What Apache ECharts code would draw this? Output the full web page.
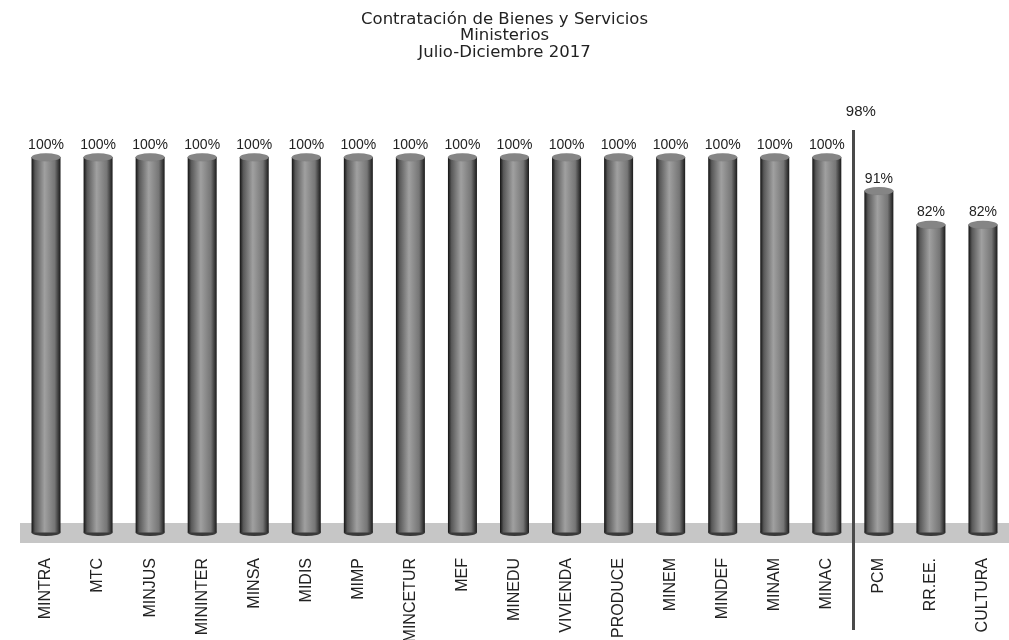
<!DOCTYPE html>
<html>
<head>
<meta charset="utf-8">
<script src="https://cdn.jsdelivr.net/npm/echarts@6/dist/echarts.min.js"></script>
<style>
html,body{margin:0;padding:0;background:#fff;}
#chart{width:1009px;height:640px;}
</style>
</head>
<body>
<div id="chart"></div>
<script>
const categories = ['MINTRA','MTC','MINJUS','MININTER','MINSA','MIDIS','MIMP','MINCETUR','MEF','MINEDU','VIVIENDA','PRODUCE','MINEM','MINDEF','MINAM','MINAC','PCM','RR.EE.','CULTURA'];
const values = [100,100,100,100,100,100,100,100,100,100,100,100,100,100,100,100,91,82,82];
const averageValue = 98;
const averagePosition = 15.5; // between MINAC and PCM
const titleLines = ['Contratación de Bienes y Servicios','Ministerios','Julio-Diciembre 2017'];

const chart = echarts.init(document.getElementById('chart'));
const font = 'Liberation Sans, Arial, sans-serif';
const barGrad = new echarts.graphic.LinearGradient(0,0,1,0,[
  {offset:0,color:'#121212'},
  {offset:0.12,color:'#585858'},
  {offset:0.45,color:'#a0a0a0'},
  {offset:0.8,color:'#767676'},
  {offset:1,color:'#1a1a1a'}
]);
chart.setOption({
  animation:false,
  backgroundColor:'#ffffff',
  title:{
    text:titleLines.join('\n'),
    left:'center',
    top:6,
    textStyle:{fontFamily:'DejaVu Sans',fontSize:16.5,fontWeight:'normal',color:'#222',lineHeight:16.5}
  },
  grid:{left:20,right:0,top:130,bottom:10,containLabel:false,outerBoundsMode:'none'},
  xAxis:[{
    type:'category',
    data:categories,
    axisLine:{onZero:true,lineStyle:{color:'#c6c6c6',width:20,cap:'butt'}},
    axisTick:{show:false},
    axisLabel:{rotate:90,margin:-72,fontFamily:font,fontSize:16,color:'#222',interval:0}
  },{
    type:'value',
    min:-0.5,max:18.5,
    show:false
  }],
  yAxis:{
    type:'value',min:-26,max:107.2,show:false,splitLine:{show:false}
  },
  series:[
    {
      type:'bar',
      data:values,
      barWidth:29,
      itemStyle:{color:barGrad},
      label:{show:true,position:'top',distance:5,formatter:'{c}%',fontFamily:font,fontSize:14,color:'#222'},
      z:3
    },
    {
      type:'pictorialBar',
      data:values,
      symbol:'circle',
      symbolSize:[29,7],
      symbolPosition:'start',
      symbolOffset:[0,'50%'],
      itemStyle:{color:'#3a3a3a'},
      z:2
    },
    {
      type:'pictorialBar',
      data:values,
      symbol:'circle',
      symbolSize:[29,8],
      symbolPosition:'end',
      symbolOffset:[0,'-50%'],
      itemStyle:{color:'#858585',borderColor:'#262626',borderWidth:1},
      z:4
    },
    {
      type:'line',
      xAxisIndex:1,
      data:[],
      symbol:'none',
      markLine:{
        silent:true,
        symbol:['none','none'],
        lineStyle:{color:'#4a4a4a',width:3,type:'solid'},
        label:{show:true,position:'end',formatter:averageValue+'%',fontFamily:font,fontSize:15,color:'#222',offset:[8,-6]},
        data:[{xAxis:averagePosition}]
      },
      z:5
    }
  ]
});
</script>
</body>
</html>
